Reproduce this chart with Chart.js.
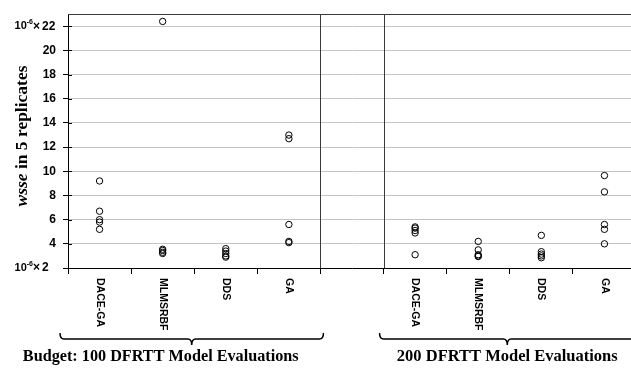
<!DOCTYPE html>
<html>
<head>
<meta charset="utf-8">
<script src="https://cdn.jsdelivr.net/npm/chart.js@4.4.0/dist/chart.umd.min.js"></script>
<style>
  html, body { margin: 0; padding: 0; background: #fff; overflow: hidden; }
  #wrap { position: relative; width: 645px; height: 369px; }
</style>
</head>
<body>
<div id="wrap"><canvas id="c"></canvas></div>
<script>
// Optimisers compared, repeated for each evaluation budget (blank slot separates the groups)
const methods = ['DACE-GA', 'MLMSRBF', 'DDS', 'GA'];
const categories = [...methods, '', ...methods];

// wsse of the 5 replicates (x 1e-6), budget of 100 DFRTT model evaluations
const daceGA100  = [9.2, 6.7, 6.0, 5.8, 5.2];
const mlmsrbf100 = [22.4, 3.55, 3.45, 3.3, 3.2];
const dds100     = [3.6, 3.4, 3.2, 3.0, 2.9];
const ga100      = [13.0, 12.7, 5.6, 4.2, 4.1];

// wsse of the 5 replicates (x 1e-6), budget of 200 DFRTT model evaluations
const daceGA200  = [5.4, 5.3, 5.1, 4.9, 3.1];
const mlmsrbf200 = [4.2, 3.5, 3.1, 3.0, 2.95];
const dds200     = [4.7, 3.35, 3.15, 3.0, 2.85];
const ga200      = [9.65, 8.3, 5.6, 5.2, 4.0];

const yMin = 2, yMax = 23, yStep = 2;
const scaledTicks = [2, 22];          // ticks carrying the 10^-6 multiplier
const groupTitles = ['Budget: 100 DFRTT Model Evaluations', '200 DFRTT Model Evaluations'];
const replicates = 5;

const columns = [daceGA100, mlmsrbf100, dds100, ga100, null, daceGA200, mlmsrbf200, dds200, ga200];
const datasets = [];
for (let r = 0; r < replicates; r++) {
  datasets.push({
    label: 'Replicate ' + (r + 1),
    data: columns.map(col => (col ? col[r] : null)),
    showLine: false,
    pointStyle: 'circle',
    pointRadius: 3.2,
    pointHoverRadius: 3.2,
    pointBorderWidth: 1,
    pointBorderColor: '#000',
    pointBackgroundColor: 'rgba(0,0,0,0)'
  });
}

const SANS = '"Liberation Sans", Arial, sans-serif';
const SERIF = '"Liberation Serif", "Times New Roman", serif';

function fitFont(ctx, text, style, target, base) {
  ctx.font = style + ' ' + base + 'px ' + SERIF;
  const w = ctx.measureText(text).width;
  return base * target / w;
}

const decorations = {
  id: 'decorations',
  afterDraw(chart) {
    const ctx = chart.ctx;
    const area = chart.chartArea;
    const xs = chart.scales.x, ys = chart.scales.y;
    const half = (xs.getPixelForValue(1) - xs.getPixelForValue(0)) / 2;
    const gapIdx = categories.indexOf('');
    const gapL = xs.getPixelForValue(gapIdx) - half;
    const gapR = xs.getPixelForValue(gapIdx) + half;

    ctx.save();
    // top frame and the blank separator column
    ctx.strokeStyle = '#3a3a3a';
    ctx.lineWidth = 1;
    ctx.beginPath();
    ctx.moveTo(area.left, Math.round(area.top) + 0.5);
    ctx.lineTo(area.right, Math.round(area.top) + 0.5);
    [gapL, gapR].forEach(x => {
      ctx.moveTo(Math.round(x) + 0.5, area.top);
      ctx.lineTo(Math.round(x) + 0.5, area.bottom);
    });
    ctx.stroke();

    // y tick marks crossing into the plot
    ctx.strokeStyle = '#000';
    ctx.beginPath();
    ys.ticks.forEach(t => {
      const y = Math.round(ys.getPixelForValue(t.value)) + 0.5;
      ctx.moveTo(area.left, y);
      ctx.lineTo(area.left + 4, y);
    });
    ctx.stroke();

    // y tick labels with the 10^-6 multiplier
    ctx.fillStyle = '#000';
    ctx.textBaseline = 'middle';
    scaledTicks.forEach(v => {
      const y = ys.getPixelForValue(v);
      const numX = area.left - 26;
      ctx.font = 'bold 12px ' + SANS;
      ctx.textAlign = 'left';
      ctx.fillText(String(v), numX, y);
      ctx.textAlign = 'right';
      ctx.fillText('\u00D7', numX - 2, y);
      const timesW = ctx.measureText('\u00D7').width;
      ctx.font = 'bold 7px ' + SANS;
      ctx.fillText('-6', numX - 2 - timesW, y - 4);
      const supW = ctx.measureText('-6').width;
      ctx.font = 'bold 11px ' + SANS;
      ctx.fillText('10', numX - 2 - timesW - supW, y);
    });

    // rotated category labels
    ctx.font = 'bold 10.5px ' + SANS;
    ctx.textAlign = 'left';
    ctx.textBaseline = 'middle';
    categories.forEach((lab, i) => {
      if (!lab) return;
      ctx.save();
      ctx.translate(xs.getPixelForValue(i), area.bottom + 10);
      ctx.rotate(Math.PI / 2);
      ctx.fillText(lab, 0, 0);
      ctx.restore();
    });

    // y axis title: "wsse in 5 replicates"
    const t1 = 'wsse', t2 = ' in 5 replicates';
    const ts = fitFont(ctx, t1 + t2, 'bold', 142, 15);
    ctx.font = 'italic bold ' + ts + 'px ' + SERIF;
    const w1 = ctx.measureText(t1).width;
    ctx.font = 'bold ' + ts + 'px ' + SERIF;
    const w2 = ctx.measureText(t2).width;
    ctx.save();
    ctx.translate(22, 136);
    ctx.rotate(-Math.PI / 2);
    ctx.textAlign = 'left';
    ctx.textBaseline = 'middle';
    const sx = -(w1 + w2) / 2;
    ctx.font = 'italic bold ' + ts + 'px ' + SERIF;
    ctx.fillText(t1, sx, 0);
    ctx.font = 'bold ' + ts + 'px ' + SERIF;
    ctx.fillText(t2, sx + w1, 0);
    ctx.restore();

    // group braces
    const braceY = 339;
    const brace = (x1, x2) => {
      const mid = (x1 + x2) / 2;
      ctx.beginPath();
      ctx.moveTo(x1, braceY - 6);
      ctx.quadraticCurveTo(x1, braceY, x1 + 4, braceY);
      ctx.lineTo(mid - 4, braceY);
      ctx.quadraticCurveTo(mid, braceY, mid, braceY + 6);
      ctx.quadraticCurveTo(mid, braceY, mid + 4, braceY);
      ctx.lineTo(x2 - 4, braceY);
      ctx.quadraticCurveTo(x2, braceY, x2, braceY - 6);
      ctx.stroke();
      return mid;
    };
    ctx.strokeStyle = '#000';
    ctx.lineWidth = 1.5;
    const m1 = brace(area.left - 8, gapL + 3);
    const m2 = brace(gapR - 4, area.right - 1);

    // group titles
    ctx.textAlign = 'center';
    ctx.textBaseline = 'middle';
    const s1 = fitFont(ctx, groupTitles[0], 'bold', 276, 15);
    ctx.font = 'bold ' + s1 + 'px ' + SERIF;
    ctx.fillText(groupTitles[0], m1 - 31, 357);
    const s2 = fitFont(ctx, groupTitles[1], 'bold', 221, 15);
    ctx.font = 'bold ' + s2 + 'px ' + SERIF;
    ctx.fillText(groupTitles[1], m2, 357);
    ctx.restore();
  }
};

new Chart(document.getElementById('c'), {
  type: 'line',
  data: { labels: categories, datasets },
  options: {
    responsive: true,
    maintainAspectRatio: false,
    animation: false,
    layout: { padding: { left: 0, top: 10, right: 9, bottom: 0 } },
    plugins: { legend: { display: false }, tooltip: { enabled: false } },
    scales: {
      x: {
        type: 'category',
        offset: true,
        grid: { offset: true, drawOnChartArea: false, drawTicks: true, tickLength: 6, tickColor: '#000' },
        border: { color: '#000', width: 1 },
        ticks: { display: false },
        afterFit(s) { s.height = 101; }
      },
      y: {
        type: 'linear',
        min: yMin,
        max: yMax,
        grid: { color: '#c4c4c4', tickColor: '#000', tickLength: 5 },
        border: { color: '#000', width: 1 },
        ticks: {
          stepSize: yStep,
          includeBounds: false,
          padding: 7,
          color: '#000',
          font: { family: SANS, size: 12, weight: 'bold' },
          callback: v => (scaledTicks.includes(v) ? '' : v)
        },
        afterFit(s) { s.width = 68; }
      }
    }
  },
  plugins: [decorations]
});
</script>
</body>
</html>
